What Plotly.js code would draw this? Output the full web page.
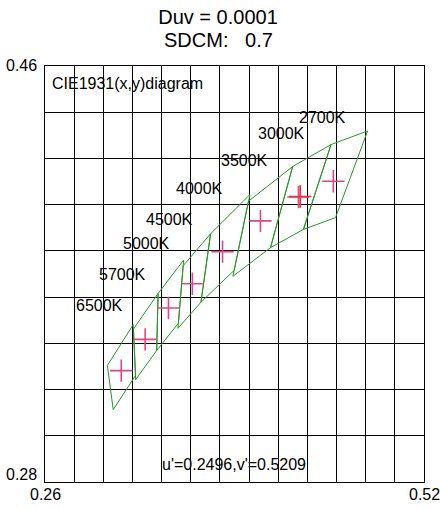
<!DOCTYPE html>
<html>
<head>
<meta charset="utf-8">
<script src="https://cdn.plot.ly/plotly-3.0.1.min.js"></script>
<style>html,body{margin:0;padding:0;background:#fff;}#chart{width:440px;height:508px;}</style>
</head>
<body>
<div id="chart"></div>
<script>
// ANSI C78.377 quadrangles (CIE 1931 x,y corners)
const cctNames = ["2700K","3000K","3500K","4000K","4500K","5000K","5700K","6500K"];
const q2700x = [0.4813, 0.4562, 0.4373, 0.4593, 0.4813];
const q2700y = [0.4319, 0.4260, 0.3893, 0.3944, 0.4319];
const q3000x = [0.4562, 0.4299, 0.4147, 0.4373, 0.4562];
const q3000y = [0.4260, 0.4165, 0.3814, 0.3893, 0.4260];
const q3500x = [0.4299, 0.3996, 0.3889, 0.4147, 0.4299];
const q3500y = [0.4165, 0.4015, 0.3690, 0.3814, 0.4165];
const q4000x = [0.4006, 0.3736, 0.3670, 0.3898, 0.4006];
const q4000y = [0.4044, 0.3874, 0.3578, 0.3716, 0.4044];
const q4500x = [0.3736, 0.3548, 0.3512, 0.3670, 0.3736];
const q4500y = [0.3874, 0.3736, 0.3465, 0.3578, 0.3874];
const q5000x = [0.3551, 0.3376, 0.3366, 0.3515, 0.3551];
const q5000y = [0.3760, 0.3616, 0.3369, 0.3487, 0.3760];
const q5700x = [0.3376, 0.3207, 0.3222, 0.3366, 0.3376];
const q5700y = [0.3616, 0.3462, 0.3243, 0.3369, 0.3616];
const q6500x = [0.3205, 0.3028, 0.3068, 0.3221, 0.3205];
const q6500y = [0.3481, 0.3304, 0.3113, 0.3261, 0.3481];
const quadsX = [q2700x, q3000x, q3500x, q4000x, q4500x, q5000x, q5700x, q6500x];
const quadsY = [q2700y, q3000y, q3500y, q4000y, q4500y, q5000y, q5700y, q6500y];

// quadrangle centres
const centerX = [0.4578, 0.4339, 0.4078, 0.3818, 0.3611, 0.3447, 0.3287, 0.3123];
const centerY = [0.4101, 0.4033, 0.3930, 0.3797, 0.3658, 0.3553, 0.3417, 0.3282];

// CCT label anchor positions
const labelX = [0.4343, 0.4061, 0.3807, 0.3499, 0.3293, 0.3135, 0.2970, 0.2813];
const labelY = [0.4379, 0.4310, 0.4193, 0.4072, 0.3934, 0.3834, 0.3696, 0.3562];

// measured point
const testU = 0.2496, testV = 0.5209;
const duv = "0.0001", sdcm = "0.7";

const den = 6*testU - 16*testV + 12;
const testX = 9*testU/den, testY = 4*testV/den;

const FONT = "Liberation Sans, Arial, sans-serif";
const traces = [];
quadsX.forEach((qx, i) => {
  traces.push({type:"scatter", mode:"lines", x:qx, y:quadsY[i], name:cctNames[i],
    line:{color:"#239a23", width:1}, hoverinfo:"skip", showlegend:false});
});
traces.push({type:"scatter", mode:"markers", x:centerX, y:centerY, showlegend:false,
  marker:{symbol:"cross-thin", size:16, line:{color:"#e2448c", width:1.6}}});
traces.push({type:"scatter", mode:"markers", x:[testX], y:[testY], showlegend:false,
  marker:{symbol:"cross-thin", size:16, line:{color:"#ff2a2a", width:1.6}}});

const annotations = [];
cctNames.forEach((t, i) => {
  annotations.push({x:labelX[i], y:labelY[i], xref:"x", yref:"y", text:t, showarrow:false,
    xanchor:"left", yanchor:"middle", xshift:-2, font:{family:FONT, size:16, color:"#000"}});
});
const pa = (text, x, y, xa, ya, size, xs) => ({text, x, y, xref:"paper", yref:"paper", showarrow:false,
  xanchor:xa, yanchor:ya, xshift:xs || 0, font:{family:FONT, size:size, color:"#000"}});
annotations.push(pa("SDCM:\u00a0\u00a0\u00a0" + sdcm, 0.4565, 1.0625, "center", "middle", 20));
annotations.push(pa("CIE1931(x,y)diagram", 0.0211, 0.959, "left", "middle", 16, -3));
annotations.push(pa("u'=" + testU.toFixed(4) + ",v'=" + testV.toFixed(4), 0.3087, 0.0409, "left", "middle", 16, -2));
annotations.push(pa("0.46", -0.0185, 1.0024, "right", "middle", 16, 1));
annotations.push(pa("0.28", -0.0185, 0.0192, "right", "middle", 16, 1));
annotations.push(pa("0.26", 0, -0.031, "center", "middle", 16));
annotations.push(pa("0.52", 1, -0.031, "center", "middle", 16));

const axisCommon = {showgrid:true, gridcolor:"#000", gridwidth:1, showline:true, linecolor:"#000",
  linewidth:1, mirror:true, zeroline:false, ticks:"", showticklabels:false, dtick:0.02, fixedrange:true};

const layout = {
  width:440, height:508,
  margin:{l:45, r:16, t:66, b:26, pad:0},
  paper_bgcolor:"#fff", plot_bgcolor:"#fff",
  font:{family:FONT, size:16, color:"#000"},
  title:{text:"Duv = " + duv, font:{family:FONT, size:20, color:"#000"},
    x:0.4955, xref:"container", xanchor:"center", y:1-17/508, yref:"container", yanchor:"middle"},
  xaxis:Object.assign({range:[0.26,0.52], tick0:0.26}, axisCommon),
  yaxis:Object.assign({range:[0.28,0.46], tick0:0.28}, axisCommon),
  annotations:annotations,
  showlegend:false
};
Plotly.newPlot("chart", traces, layout, {staticPlot:true, displayModeBar:false});
</script>
</body>
</html>
